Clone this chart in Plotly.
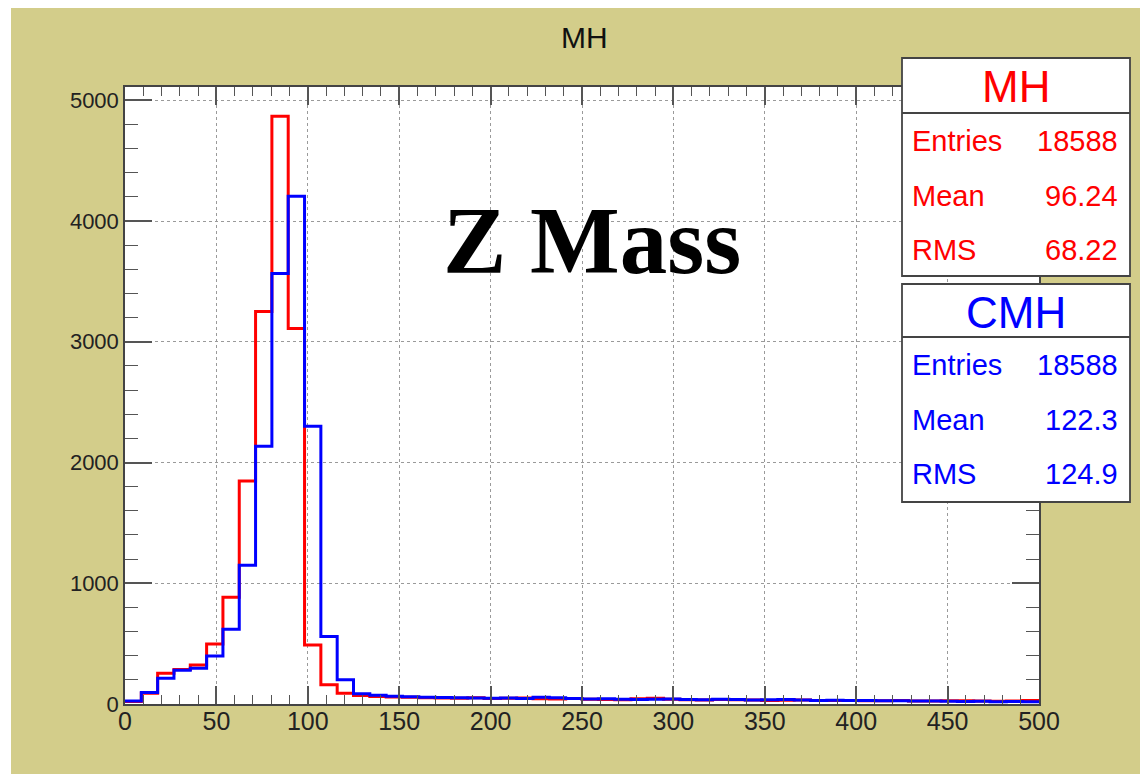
import numpy as np
import plotly.graph_objects as go

# Histogram binning: 56 bins over 0-500
n_bins = 56
x_min, x_max = 0.0, 500.0

# Bin contents, MH (red)
mh_counts = [
    20, 90, 254, 285, 323, 497, 885, 1846, 3250, 4868, 3110, 488, 160, 90,
    70, 62, 58, 55, 52, 50, 48, 52, 45, 47, 50, 44, 42, 46, 40, 38, 36, 44,
    48, 40, 36, 34, 38, 35, 33, 30, 32, 34, 30, 28, 30, 27, 26, 28, 25, 24,
    26, 27, 24, 22, 25, 28,
]

# Bin contents, CMH (blue)
cmh_counts = [
    25, 95, 213, 280, 296, 398, 620, 1150, 2135, 3565, 4205, 2300, 560, 200,
    84, 72, 64, 60, 56, 54, 52, 50, 48, 50, 46, 55, 52, 45, 42, 44, 40, 38,
    40, 42, 38, 36, 40, 38, 34, 36, 38, 33, 30, 32, 30, 28, 27, 26, 25, 24,
    22, 20, 22, 18, 20, 18,
]

stats_mh = [("Entries", "18588"), ("Mean", "96.24"), ("RMS", "68.22")]
stats_cmh = [("Entries", "18588"), ("Mean", "122.3"), ("RMS", "124.9")]

x_ticks = [0, 50, 100, 150, 200, 250, 300, 350, 400, 450, 500]
y_ticks = [0, 1000, 2000, 3000, 4000, 5000]

W, H = 1140, 774
KHAKI = "#d3cd8a"
RED = "#ff0000"
BLUE = "#0000ff"
SANS = "Liberation Sans, Arial, sans-serif"


def px(x):
    return x / W


def py(y):
    return 1 - y / H


edges = np.linspace(x_min, x_max, n_bins + 1)


def step_trace(counts, color, name):
    ys = list(counts) + [counts[-1]]
    return go.Scatter(
        x=edges, y=ys, mode="lines", line_shape="hv",
        line=dict(color=color, width=3), name=name, hoverinfo="skip",
    )


fig = go.Figure()
fig.add_trace(step_trace(mh_counts, RED, "MH"))
fig.add_trace(step_trace(cmh_counts, BLUE, "CMH"))

tick_font_y = dict(family=SANS, size=22, color="#222")
tick_font_x = dict(family=SANS, size=25, color="#222")

fig.update_layout(
    width=W, height=H, autosize=False,
    margin=dict(l=0, r=0, t=0, b=0),
    paper_bgcolor=KHAKI, plot_bgcolor="white",
    showlegend=False,
    xaxis=dict(
        domain=[px(125), px(1039)], range=[x_min, x_max],
        tickmode="array", tickvals=x_ticks, ticktext=[str(v) for v in x_ticks],
        ticks="inside", ticklen=18, tickwidth=1.5, tickcolor="#555",
        minor=dict(dtick=10, ticks="inside", ticklen=9, tickwidth=1.2,
                   tickcolor="#555", showgrid=False),
        showline=True, linecolor="#444", linewidth=1.5, mirror="allticks",
        showgrid=True, gridcolor="#9a9a9a", griddash="dot", gridwidth=1,
        zeroline=False, tickfont=tick_font_x, automargin=False,
        ticklabelstandoff=-6,
    ),
    yaxis=dict(
        domain=[py(704), py(87)], range=[0, 5110],
        tickmode="array", tickvals=y_ticks, ticktext=[str(v) for v in y_ticks],
        ticks="inside", ticklen=27, tickwidth=1.5, tickcolor="#555",
        minor=dict(dtick=200, ticks="inside", ticklen=13, tickwidth=1.2,
                   tickcolor="#555", showgrid=False),
        showline=True, linecolor="#444", linewidth=1.5, mirror="allticks",
        showgrid=True, gridcolor="#9a9a9a", griddash="dot", gridwidth=1,
        zeroline=False, tickfont=tick_font_y, automargin=False,
    ),
)

shapes = [
    # white strips along the top and left edges of the canvas
    dict(type="rect", xref="paper", yref="paper", x0=0, x1=1.0,
         y0=py(8), y1=1.0, fillcolor="white", line=dict(width=0),
         layer="below"),
    dict(type="rect", xref="paper", yref="paper", x0=0, x1=px(11),
         y0=0, y1=1.0, fillcolor="white", line=dict(width=0),
         layer="below"),
]

annotations = [
    dict(text="MH", x=px(584), y=py(37), xref="paper", yref="paper",
         xanchor="center", yanchor="middle", showarrow=False,
         font=dict(family=SANS, size=30, color="#111")),
    dict(text="<b>Z Mass</b>", x=px(592), y=py(241), xref="paper",
         yref="paper", xanchor="center", yanchor="middle", showarrow=False,
         font=dict(family="Liberation Serif, Times New Roman, serif", size=95,
                   color="black")),
]


def stats_box(top, bottom, sep, header_y, rows_y, title, rows, color):
    left, right = 902, 1130
    shapes.append(dict(type="rect", xref="paper", yref="paper",
                       x0=px(left), x1=px(right), y0=py(bottom), y1=py(top),
                       fillcolor="white", line=dict(color="#444", width=1.8),
                       layer="above"))
    shapes.append(dict(type="line", xref="paper", yref="paper",
                       x0=px(left), x1=px(right), y0=py(sep), y1=py(sep),
                       line=dict(color="#444", width=1.8), layer="above"))
    annotations.append(dict(text=title, x=px((left + right) / 2),
                            y=py(header_y), xref="paper", yref="paper",
                            xanchor="center", yanchor="middle",
                            showarrow=False,
                            font=dict(family=SANS, size=44, color=color)))
    for (label, value), yy in zip(rows, rows_y):
        annotations.append(dict(text=label, x=px(910), y=py(yy),
                                xref="paper", yref="paper", xanchor="left",
                                yanchor="middle", showarrow=False,
                                font=dict(family=SANS, size=29, color=color)))
        annotations.append(dict(text=value, x=px(1120), y=py(yy),
                                xref="paper", yref="paper", xanchor="right",
                                yanchor="middle", showarrow=False,
                                font=dict(family=SANS, size=29, color=color)))


stats_box(58, 276, 113, 86, [141, 196, 250], "MH", stats_mh, RED)
stats_box(284, 502, 337, 312, [365, 420, 474], "CMH", stats_cmh, BLUE)

fig.update_layout(shapes=shapes, annotations=annotations)
fig.write_html("out.html")
